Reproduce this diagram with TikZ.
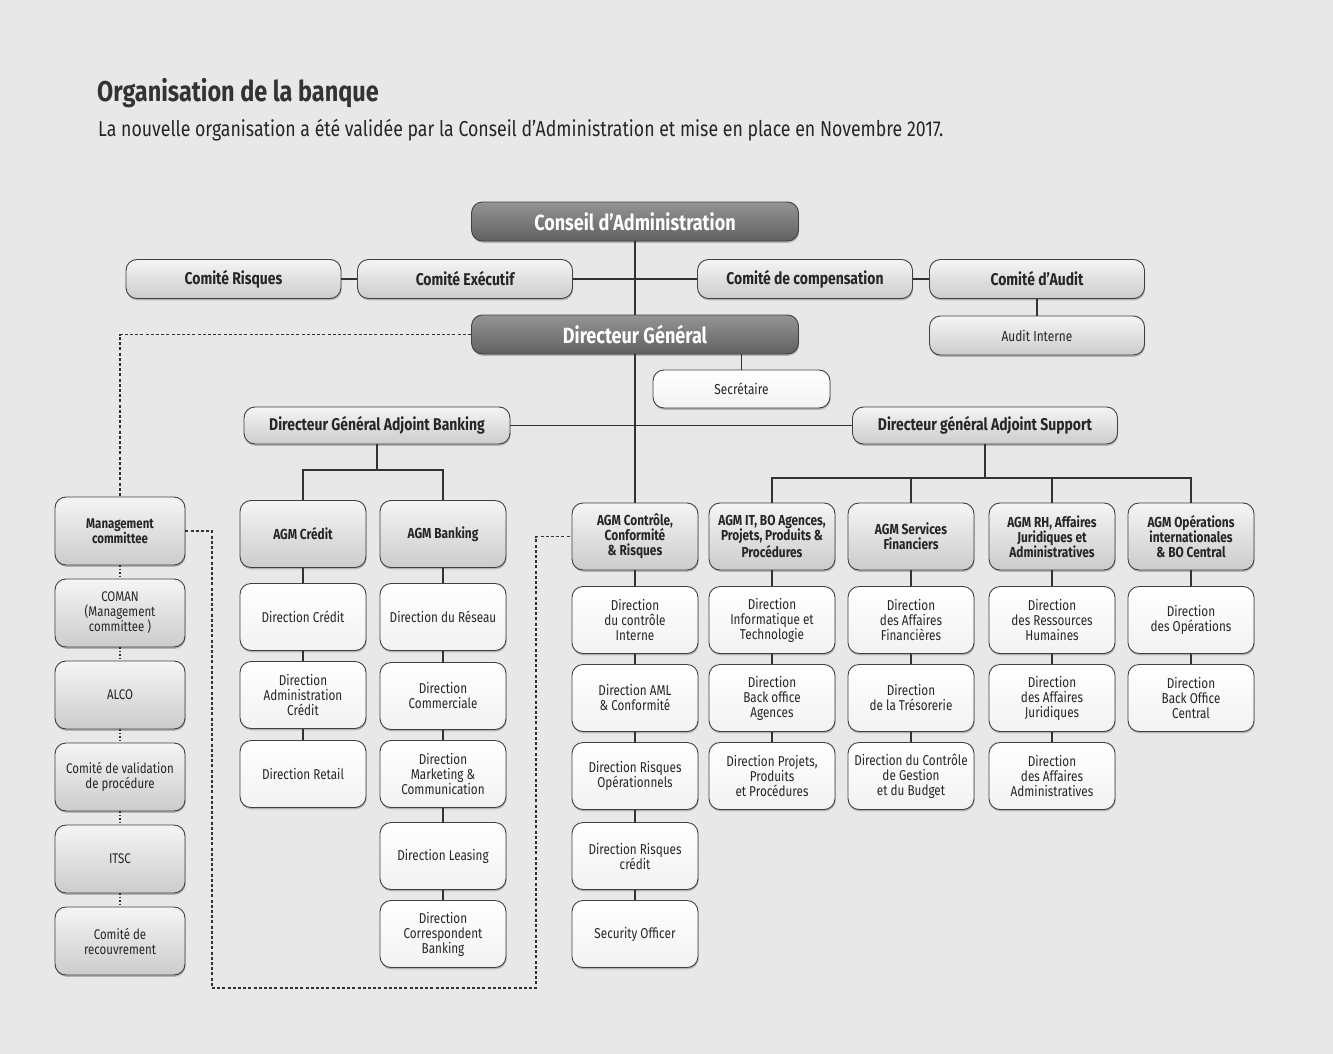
\documentclass[tikz,border=0pt]{standalone}
\usepackage{fontspec}
\setmainfont[FakeStretch=0.82]{Fira Sans}
\usetikzlibrary{shadows}

\begin{document}
\begin{tikzpicture}[x=1pt,y=-1pt,
  box/.style={rounded corners=11pt,draw=black!75,line width=.9pt,align=center,inner sep=2pt,
    drop shadow={shadow xshift=.6pt,shadow yshift=-1.8pt,opacity=.5}},
  darkbox/.style={box,top color=black!42,bottom color=black!62,text=white,
    font=\bfseries\fontsize{22}{25}\selectfont,minimum width=327pt,minimum height=39pt},
  cmtebox/.style={box,top color=black!4,bottom color=black!20,text=black!85,
    font=\bfseries\fontsize{17}{20}\selectfont,minimum width=215pt,minimum height=39pt},
  agmbox/.style={box,top color=black!4,bottom color=black!20,text=black!85,
    font=\bfseries\fontsize{14.5}{15}\selectfont,minimum width=126pt,minimum height=67pt},
  grpbox/.style={box,top color=black!4,bottom color=black!20,text=black!85,
    font=\fontsize{14}{15}\selectfont,minimum width=130pt,minimum height=68pt},
  unitbox/.style={box,top color=white,bottom color=black!5,text=black!85,
    font=\fontsize{14.3}{15}\selectfont,minimum width=126pt,minimum height=67pt},
  link/.style={draw=black!80,line width=1.1pt},
  dashlink/.style={draw=black!80,line width=1.1pt,dash pattern=on 3pt off 2.2pt},
  dotlink/.style={draw=black!80,line width=1.3pt,dash pattern=on 1.5pt off 2pt}]
\path[use as bounding box,fill=black!9] (0,0) rectangle (1333,1054);

\node[anchor=base west,font=\bfseries\fontsize{28.6}{32}\selectfont,text=black!80,inner sep=0pt] (title) at (97,102) {Organisation de la banque};
\node[anchor=base west,font=\fontsize{21.6}{24}\selectfont,text=black!85,inner sep=0pt] (subtitle) at (98,137)
  {La nouvelle organisation a été validée par la Conseil d’Administration et mise en place en Novembre 2017.};

\node[darkbox] (cons) at (635,221.5) {Conseil d’Administration};
\node[darkbox] (dg) at (635,334.5) {Directeur Général};
\node[cmtebox] (risq) at (233.5,279) {Comité Risques};
\node[cmtebox] (exec) at (465,279) {Comité Exécutif};
\node[cmtebox] (comp) at (805,279) {Comité de compensation};
\node[cmtebox] (audit) at (1037,279) {Comité d’Audit};
\node[cmtebox,font=\fontsize{14.5}{16}\selectfont] (audint) at (1037,335.5) {Audit Interne};
\node[unitbox,font=\fontsize{14.5}{16}\selectfont,minimum width=177pt,minimum height=38pt] (secr) at (741.5,389) {Secrétaire};
\node[cmtebox,minimum width=266pt,minimum height=37pt] (dgab) at (377,425.5) {Directeur Général Adjoint Banking};
\node[cmtebox,minimum width=265pt,minimum height=37pt] (dgas) at (985,425.5) {Directeur général Adjoint Support};

\node[grpbox,font=\bfseries\fontsize{14}{15}\selectfont] (mgmt) at (120,531) {Management\\committee};
\node[grpbox] (coman) at (120,613) {COMAN\\(Management\\committee )};
\node[grpbox] (alco) at (120,695) {ALCO};
\node[grpbox] (cval) at (120,777) {Comité de validation\\de procédure};
\node[grpbox] (itsc) at (120,859) {ITSC};
\node[grpbox] (crec) at (120,941) {Comité de\\recouvrement};

\node[agmbox] (agmcr) at (303,534) {AGM Crédit};
\node[unitbox] (dcred) at (303,617) {Direction Crédit};
\node[unitbox] (dadm) at (303,695) {Direction\\Administration\\Crédit};
\node[unitbox] (dret) at (303,774) {Direction Retail};

\node[agmbox] (agmbk) at (443,534) {AGM Banking};
\node[unitbox] (dres) at (443,617) {Direction du Réseau};
\node[unitbox] (dcom) at (443,696) {Direction\\Commerciale};
\node[unitbox] (dmkt) at (443,774) {Direction\\Marketing \&\\Communication};
\node[unitbox] (dlea) at (443,856) {Direction Leasing};
\node[unitbox] (dcorr) at (443,934) {Direction\\Correspondent\\Banking};

\node[agmbox] (agmctl) at (635,536.5) {AGM Contrôle,\\Conformité\\\& Risques};
\node[unitbox] (dci) at (635,620) {Direction\\du contrôle\\Interne};
\node[unitbox] (daml) at (635,698) {Direction AML\\\& Conformité};
\node[unitbox] (drop) at (635,776) {Direction Risques\\Opérationnels};
\node[unitbox] (drcr) at (635,856) {Direction Risques\\crédit};
\node[unitbox] (secof) at (635,934) {Security Officer};

\node[agmbox] (agmit) at (772,536.5) {AGM IT, BO Agences,\\Projets, Produits \&\\Procédures};
\node[unitbox] (dit) at (772,620) {Direction\\Informatique et\\Technologie};
\node[unitbox] (dbo) at (772,698) {Direction\\Back office\\Agences};
\node[unitbox] (dproj) at (772,776) {Direction Projets,\\Produits\\et Procédures};

\node[agmbox] (agmsf) at (911,536.5) {AGM Services\\Financiers};
\node[unitbox] (daf) at (911,620) {Direction\\des Affaires\\Financières};
\node[unitbox] (dtres) at (911,698) {Direction\\de la Trésorerie};
\node[unitbox] (dcg) at (911,776) {Direction du Contrôle\\de Gestion\\et du Budget};

\node[agmbox] (agmrh) at (1052,536.5) {AGM RH, Affaires\\Juridiques et\\Administratives};
\node[unitbox] (drh) at (1052,620) {Direction\\des Ressources\\Humaines};
\node[unitbox] (dju) at (1052,698) {Direction\\des Affaires\\Juridiques};
\node[unitbox] (dadmv) at (1052,776) {Direction\\des Affaires\\Administratives};

\node[agmbox] (agmop) at (1191,536.5) {AGM Opérations\\internationales\\\& BO Central};
\node[unitbox] (dop) at (1191,620) {Direction\\des Opérations};
\node[unitbox] (dboc) at (1191,698) {Direction\\Back Office\\Central};

\coordinate (jb) at (377,470);
\coordinate (js) at (985,478);
\coordinate (dlb) at (212,988);
\coordinate (drb) at (536,988);

\path[link] (cons) -- (dg);
\path[link] (dg) -- (agmctl);
\path[link] (risq) -- (exec);
\path[link] (exec) -- (comp);
\path[link] (comp) -- (audit);
\path[link] (audit) -- (audint);
\path[link] (secr.north |- dg.south) -- (secr.north);
\path[link] (dgab) -- (dgas);
\path[link] (dgab) -- (jb);
\path[link] (agmcr.north) |- (jb) -| (agmbk.north);
\path[link] (dgas) -- (js);
\path[link] (agmit.north) |- (js) -| (agmop.north);
\path[link] (agmsf.north) -- (agmsf.north |- js);
\path[link] (agmrh.north) -- (agmrh.north |- js);
\path[link] (agmcr) -- (dcred) -- (dadm) -- (dret);
\path[link] (agmbk) -- (dres) -- (dcom) -- (dmkt) -- (dlea) -- (dcorr);
\path[link] (agmctl) -- (dci) -- (daml) -- (drop) -- (drcr) -- (secof);
\path[link] (agmit) -- (dit) -- (dbo) -- (dproj);
\path[link] (agmsf) -- (daf) -- (dtres) -- (dcg);
\path[link] (agmrh) -- (drh) -- (dju) -- (dadmv);
\path[link] (agmop) -- (dop) -- (dboc);
\path[dotlink] (mgmt) -- (coman) -- (alco) -- (cval) -- (itsc) -- (crec);
\path[dashlink] (dg.west) -| (mgmt.north);
\path[dashlink] (mgmt.east) -| (dlb) -- (drb) |- (agmctl.west);
\end{tikzpicture}
\end{document}
